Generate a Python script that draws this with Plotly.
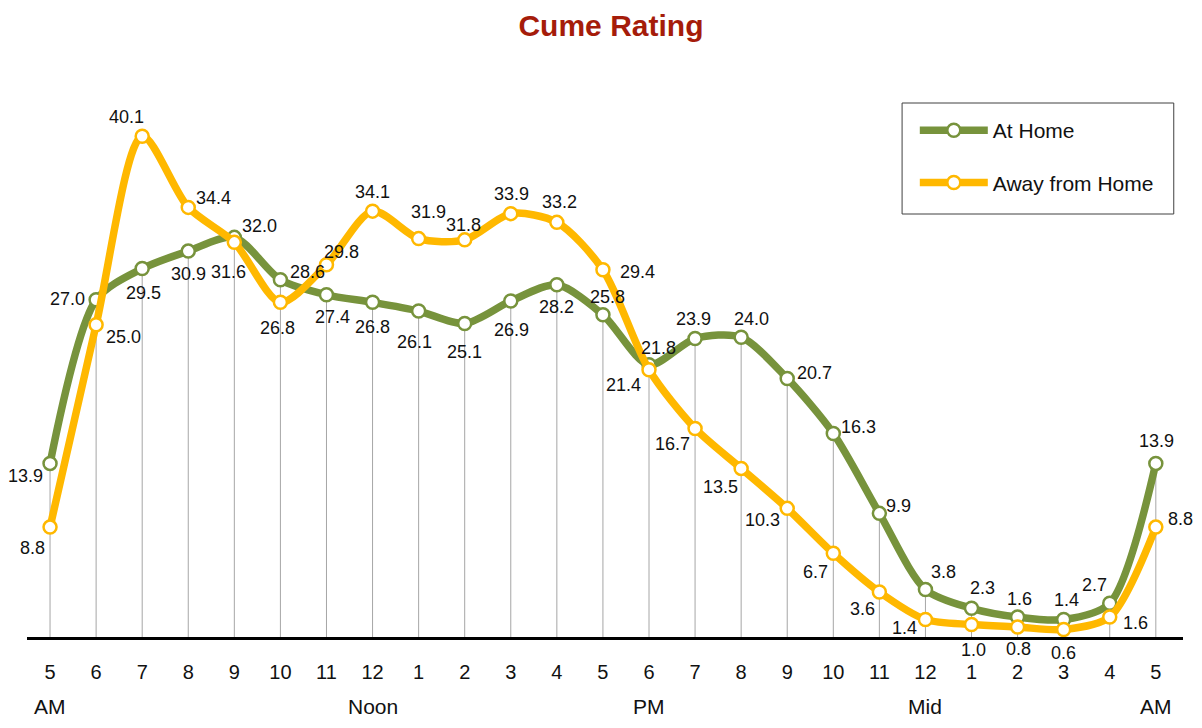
import plotly.graph_objects as go

hours = ["5", "6", "7", "8", "9", "10", "11", "12", "1", "2", "3", "4", "5",
         "6", "7", "8", "9", "10", "11", "12", "1", "2", "3", "4", "5"]
period_labels = {0: "AM", 7: "Noon", 13: "PM", 19: "Mid", 24: "AM"}

at_home = [13.9, 27.0, 29.5, 30.9, 32.0, 28.6, 27.4, 26.8, 26.1, 25.1, 26.9, 28.2, 25.8,
           21.8, 23.9, 24.0, 20.7, 16.3, 9.9, 3.8, 2.3, 1.6, 1.4, 2.7, 13.9]
away = [8.8, 25.0, 40.1, 34.4, 31.6, 26.8, 29.8, 34.1, 31.9, 31.8, 33.9, 33.2, 29.4,
        21.4, 16.7, 13.5, 10.3, 6.7, 3.6, 1.4, 1.0, 0.8, 0.6, 1.6, 8.8]

# label offsets (pixels, right / down) relative to each marker
home_off = [(-25, 13), (-29, -1), (1, 24), (0, 23), (25, -11), (27, -8), (6, 22), (0, 25),
            (-4, 31), (0, 28), (1, 29), (0, 22), (5, -18), (9, -17), (-2, -20), (10, -18),
            (27, -5), (25, -6), (19, -7), (18, -18), (11, -20), (2, -18), (3, -20),
            (-15, -18), (1, -22)]
away_off = [(-18, 21), (27, 12), (-16, -19), (25, -9), (-6, 30), (-3, 26), (15, -13),
            (0, -19), (10, -27), (-1, -15), (1, -20), (3, -20), (35, 2), (-26, 15),
            (-23, 16), (-21, 19), (-25, 12), (-18, 19), (-17, 17), (-21, 8), (2, 25),
            (1, 22), (0, 23), (26, 6), (25, -8)]

GREEN = "#77933C"
ORANGE = "#FFB800"
FONT = "Liberation Sans, Arial, sans-serif"

x = list(range(len(hours)))

# drop lines from the At Home points to the baseline
dx, dy = [], []
for i in x:
    dx += [i, i, None]
    dy += [at_home[i], 0, None]

fig = go.Figure()
fig.add_trace(go.Scatter(x=dx, y=dy, mode="lines", line=dict(color="#A6A6A6", width=1),
                         hoverinfo="skip", showlegend=False))
fig.add_trace(go.Scatter(
    x=x, y=at_home, name="At Home", mode="lines+markers",
    line=dict(color=GREEN, width=7.5, shape="spline", smoothing=0.8),
    marker=dict(size=13, color="white", line=dict(color=GREEN, width=2.5)),
    legendgroup="a"))
fig.add_trace(go.Scatter(
    x=x, y=away, name="Away from Home", mode="lines+markers",
    line=dict(color=ORANGE, width=7.5, shape="spline", smoothing=0.8),
    marker=dict(size=13, color="white", line=dict(color=ORANGE, width=2.5)),
    legendgroup="b"))

for vals, offs in ((at_home, home_off), (away, away_off)):
    for i, v in enumerate(vals):
        ox, oy = offs[i]
        fig.add_annotation(x=i, y=v, xref="x", yref="y", text=f"{v:.1f}", showarrow=False,
                           xanchor="center", yanchor="middle", xshift=ox, yshift=-oy,
                           font=dict(size=18, color="#111111", family=FONT))

for i, lab in period_labels.items():
    fig.add_annotation(x=i, y=0, xref="x", yref="y", text=lab, showarrow=False,
                       yanchor="middle", yshift=-69, font=dict(size=21, color="#111111", family=FONT))

# legend frame
fig.add_shape(type="rect", xref="paper", yref="paper", x0=0.757, x1=0.992, y0=0.7594, y1=0.9587,
              line=dict(color="#404040", width=1), fillcolor="white", layer="below")

fig.update_layout(
    width=1194, height=712,
    margin=dict(l=19, r=19, t=72, b=83),
    paper_bgcolor="white", plot_bgcolor="white",
    font=dict(family=FONT, color="#111111"),
    title=dict(text="<b>Cume Rating</b>", x=0.505, xanchor="center", y=0.976, yanchor="middle",
               font=dict(size=30, color="#A51C0A", family=FONT)),
    xaxis=dict(range=[-0.5, 24.59], tickmode="array", tickvals=x, ticktext=hours,
               showgrid=False, zeroline=False, showline=True, linecolor="black", linewidth=3,
               ticks="", tickfont=dict(size=20, color="#111111", family=FONT), ticklabelstandoff=15),
    yaxis=dict(range=[0, 44.6], visible=False, showgrid=False, zeroline=False),
    legend=dict(x=0.768, y=0.946, xanchor="left", yanchor="top",
                borderwidth=0, bgcolor="rgba(0,0,0,0)",
                font=dict(size=21, color="#111111", family=FONT),
                tracegroupgap=22, traceorder="grouped", itemwidth=68),
    showlegend=True,
)

fig.write_html("out.html")
